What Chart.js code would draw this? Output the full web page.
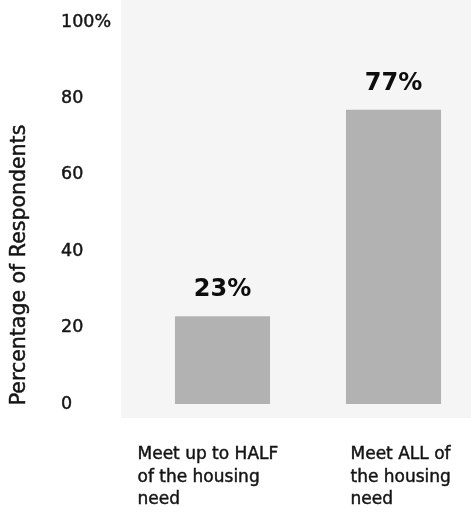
<!DOCTYPE html>
<html>
<head>
<meta charset="utf-8">
<script src="https://cdn.jsdelivr.net/npm/chart.js@4/dist/chart.umd.min.js"></script>
<style>
  html, body { margin: 0; padding: 0; background: #ffffff; overflow: hidden; }
  #wrap { width: 471px; height: 518px; overflow: hidden; }
  #chart { display: block; }
</style>
</head>
<body>
<div id="wrap"><canvas id="chart" width="479" height="518"></canvas></div>
<script>
// Survey result: share of respondents by how much housing need is met
const categories = [
  ['Meet up to HALF', 'of the housing', 'need'],
  ['Meet ALL of', 'the housing', 'need']
];
const shares = [23, 77];
const yTickValues = [0, 20, 40, 60, 80, 100];
const yTickLabels = ['0', '20', '40', '60', '80', '100%'];
const yAxisTitle = 'Percentage of Respondents';

const FONT = '"DejaVu Sans", "Liberation Sans", sans-serif';
const INK = '#141414';
const TEXT_STROKE = 0.45;

// light panel behind the plot
const panelPlugin = {
  id: 'panel',
  beforeDraw(chart) {
    const ctx = chart.ctx;
    ctx.save();
    ctx.fillStyle = '#ffffff';
    ctx.fillRect(0, 0, chart.width, chart.height);
    ctx.fillStyle = '#f5f5f5';
    ctx.fillRect(121, 0, chart.width - 121, 418);
    ctx.restore();
  }
};

function heavyText(ctx, text, x, y) {
  ctx.fillText(text, x, y);
  ctx.strokeText(text, x, y);
}

// rotated y-axis title
const yTitlePlugin = {
  id: 'yTitle',
  afterDraw(chart) {
    const ctx = chart.ctx;
    const area = chart.chartArea;
    ctx.save();
    ctx.translate(20, (area.top + area.bottom) / 2 + 52);
    ctx.rotate(-Math.PI / 2);
    ctx.font = '20.5px ' + FONT;
    ctx.fillStyle = INK;
    ctx.strokeStyle = INK;
    ctx.lineWidth = TEXT_STROKE;
    ctx.textAlign = 'center';
    ctx.textBaseline = 'middle';
    heavyText(ctx, yAxisTitle, 0, 0);
    ctx.restore();
  }
};

// value labels above bars
const valueLabelPlugin = {
  id: 'valueLabels',
  afterDatasetsDraw(chart) {
    const ctx = chart.ctx;
    const meta = chart.getDatasetMeta(0);
    ctx.save();
    ctx.font = 'bold 24px ' + FONT;
    ctx.fillStyle = '#0d0d0d';
    ctx.textAlign = 'center';
    ctx.textBaseline = 'alphabetic';
    meta.data.forEach((bar, i) => {
      ctx.fillText(shares[i] + '%', bar.x, bar.y - 20);
    });
    ctx.restore();
  }
};

// multi-line category labels, left-aligned blocks under each bar
const categoryLabelPlugin = {
  id: 'categoryLabels',
  afterDraw(chart, args, opts) {
    const ctx = chart.ctx;
    const xScale = chart.scales.x;
    ctx.save();
    ctx.font = '17px ' + FONT;
    ctx.fillStyle = INK;
    ctx.strokeStyle = INK;
    ctx.lineWidth = TEXT_STROKE;
    ctx.textAlign = 'left';
    ctx.textBaseline = 'middle';
    categories.forEach((lines, i) => {
      const x0 = xScale.getPixelForValue(i) + opts.shift[i];
      lines.forEach((line, j) => {
        heavyText(ctx, line, x0, opts.firstLine + j * opts.lineGap);
      });
    });
    ctx.restore();
  }
};

new Chart(document.getElementById('chart'), {
  type: 'bar',
  data: {
    labels: categories.map(c => c.join(' ')),
    datasets: [{
      data: shares,
      backgroundColor: '#b2b2b2',
      borderWidth: 0,
      barPercentage: 0.556,
      categoryPercentage: 1.0
    }]
  },
  options: {
    responsive: false,
    animation: false,
    layout: { padding: { left: 61, top: 22, right: 0, bottom: 0 } },
    plugins: {
      legend: { display: false },
      tooltip: { enabled: false },
      categoryLabels: { shift: [-85, -43], firstLine: 455, lineGap: 22.5 }
    },
    scales: {
      x: {
        type: 'category',
        grid: { display: false },
        border: { display: false },
        ticks: { display: false },
        afterFit(scale) { scale.height = 114; }
      },
      y: {
        min: 0,
        max: 100,
        grid: { display: false },
        border: { display: false },
        afterBuildTicks(scale) {
          scale.ticks = yTickValues.map(v => ({ value: v }));
        },
        afterFit(scale) { scale.width = 76; },
        ticks: {
          crossAlign: 'far',
          color: INK,
          textStrokeColor: INK,
          textStrokeWidth: TEXT_STROKE,
          font: { family: FONT, size: 17.5 },
          callback(value) {
            const k = yTickValues.indexOf(value);
            return k >= 0 ? yTickLabels[k] : '';
          }
        }
      }
    }
  },
  plugins: [panelPlugin, yTitlePlugin, valueLabelPlugin, categoryLabelPlugin]
});
</script>
</body>
</html>
